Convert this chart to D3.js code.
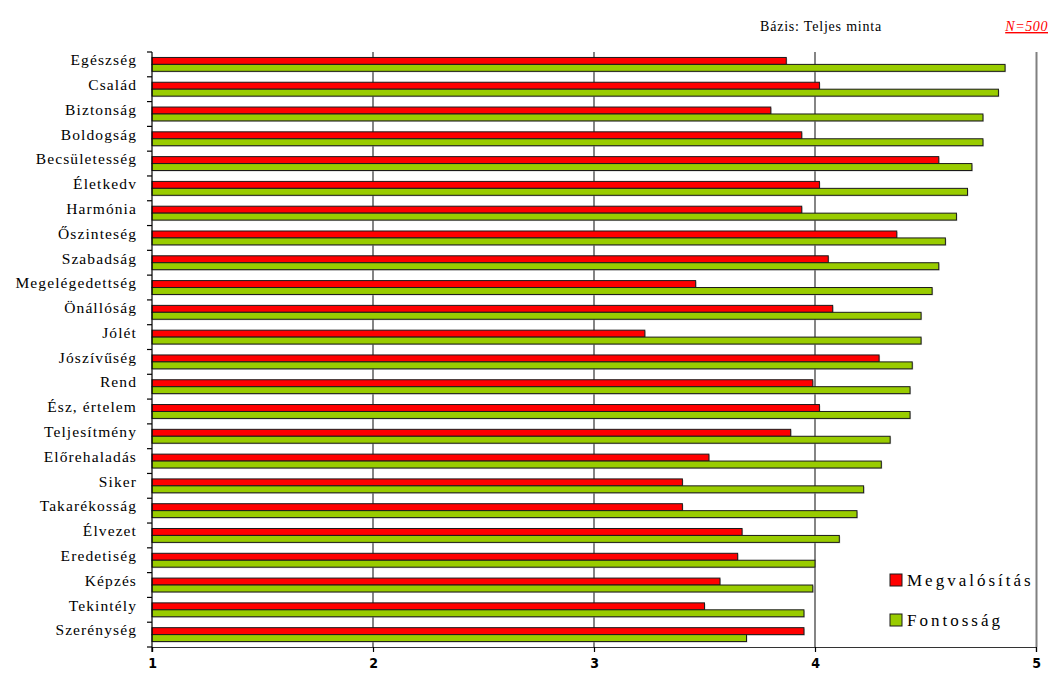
<!DOCTYPE html>
<html>
<head>
<meta charset="utf-8">
<script src="https://cdn.jsdelivr.net/npm/d3@7"></script>
<style>
  html, body { margin: 0; padding: 0; background: #fff; }
  svg { display: block; }
  .serif { font-family: "Liberation Serif", "DejaVu Serif", "Times New Roman", serif; }
  .narrow { font-family: "Liberation Sans Narrow", "DejaVu Sans Condensed", "Liberation Sans", sans-serif; }
</style>
</head>
<body>
<svg id="chart" width="1054" height="673"></svg>
<script>
// Értékek (1–5 skála): megvalósulás és fontosság
const categories = [
  "Egészség", "Család", "Biztonság", "Boldogság", "Becsületesség", "Életkedv",
  "Harmónia", "Őszinteség", "Szabadság", "Megelégedettség", "Önállóság", "Jólét",
  "Jószívűség", "Rend", "Ész, értelem", "Teljesítmény", "Előrehaladás", "Siker",
  "Takarékosság", "Élvezet", "Eredetiség", "Képzés", "Tekintély", "Szerénység"
];
const megvalositas = [
  3.87, 4.02, 3.80, 3.94, 4.56, 4.02,
  3.94, 4.37, 4.06, 3.46, 4.08, 3.23,
  4.29, 3.99, 4.02, 3.89, 3.52, 3.40,
  3.40, 3.67, 3.65, 3.57, 3.50, 3.95
];
const fontossag = [
  4.86, 4.83, 4.76, 4.76, 4.71, 4.69,
  4.64, 4.59, 4.56, 4.53, 4.48, 4.48,
  4.44, 4.43, 4.43, 4.34, 4.30, 4.22,
  4.19, 4.11, 4.00, 3.99, 3.95, 3.69
];
const seriesNames = ["Megvalósítás", "Fontosság"];
const seriesColors = ["#ff0000", "#99cc00"];
const xTicks = [1, 2, 3, 4, 5];

const svg = d3.select("#chart");
const plotLeft = 152, plotRight = 1036, plotTop = 52, plotBottom = 647;

const x = d3.scaleLinear().domain([1, 5]).range([plotLeft, plotRight]);
const y = d3.scaleBand().domain(categories).range([plotTop, plotBottom]).paddingInner(0.44).paddingOuter(0.22);
const ySub = d3.scaleBand().domain(seriesNames).range([0, y.bandwidth()]);

// fejléc
svg.append("text").attr("class", "serif")
  .attr("x", 760).attr("y", 31)
  .attr("font-size", 14).attr("letter-spacing", "0.8px")
  .attr("fill", "#000")
  .text("Bázis: Teljes minta");
svg.append("text").attr("class", "serif")
  .attr("x", 1048).attr("y", 31).attr("text-anchor", "end")
  .attr("font-size", 14).attr("letter-spacing", "0.6px")
  .attr("font-style", "italic").attr("text-decoration", "underline")
  .attr("fill", "#ff0000")
  .text("N=500");

// függőleges rácsvonalak
svg.append("g").selectAll("line")
  .data(xTicks.slice(1, -1))
  .join("line")
  .attr("x1", d => x(d)).attr("x2", d => x(d))
  .attr("y1", plotTop).attr("y2", plotBottom)
  .attr("stroke", "#333").attr("stroke-width", 1.2);

// jobb oldali keret
svg.append("line")
  .attr("x1", plotRight + 0.5).attr("x2", plotRight + 0.5)
  .attr("y1", plotTop).attr("y2", plotBottom)
  .attr("stroke", "#808080").attr("stroke-width", 2);

// oszlopok
const data = categories.map((c, i) => ({ c, vals: [megvalositas[i], fontossag[i]] }));
const groups = svg.append("g").selectAll("g")
  .data(data).join("g")
  .attr("transform", d => `translate(0,${y(d.c)})`);

groups.selectAll("rect.shadow")
  .data(d => d.vals.map((v, k) => ({ v, k })))
  .join("rect").attr("class", "shadow")
  .attr("x", x(1) + 1)
  .attr("y", d => ySub(seriesNames[d.k]) + 1)
  .attr("width", d => x(d.v) - x(1))
  .attr("height", ySub.bandwidth())
  .attr("fill", "#aaa").attr("opacity", 0.6);

groups.selectAll("rect.bar")
  .data(d => d.vals.map((v, k) => ({ v, k })))
  .join("rect").attr("class", "bar")
  .attr("x", x(1))
  .attr("y", d => ySub(seriesNames[d.k]))
  .attr("width", d => x(d.v) - x(1))
  .attr("height", ySub.bandwidth())
  .attr("fill", d => seriesColors[d.k])
  .attr("stroke", "#1a1a1a").attr("stroke-width", 1);

// bal tengely (kategóriák)
const yAxisG = svg.append("g");
yAxisG.append("line")
  .attr("x1", plotLeft).attr("x2", plotLeft).attr("y1", plotTop).attr("y2", plotBottom + 5)
  .attr("stroke", "#000").attr("stroke-width", 1.2);
const boundaries = d3.range(categories.length + 1).map(i => plotTop + i * y.step());
yAxisG.selectAll("line.tick")
  .data(boundaries).join("line").attr("class", "tick")
  .attr("x1", plotLeft - 5).attr("x2", plotLeft)
  .attr("y1", d => d).attr("y2", d => d)
  .attr("stroke", "#000").attr("stroke-width", 1.2);
yAxisG.selectAll("text")
  .data(categories).join("text").attr("class", "serif")
  .attr("x", 137)
  .attr("y", d => y(d) + y.bandwidth() / 2)
  .attr("dy", "0.05em")
  .attr("text-anchor", "end")
  .attr("font-size", 15.5)
  .attr("letter-spacing", "1.1px")
  .attr("fill", "#000")
  .text(d => d);

// alsó tengely
const xAxis = d3.axisBottom(x).tickValues(xTicks).tickSize(5).tickPadding(6).tickFormat(d3.format("d"));
const xAxisG = svg.append("g").attr("transform", `translate(0,${plotBottom})`).call(xAxis);
xAxisG.select(".domain").attr("stroke", "#333").attr("stroke-width", 1.2);
xAxisG.selectAll(".tick line").attr("stroke", "#000").attr("stroke-width", 1.2);
xAxisG.selectAll(".tick text")
  .attr("class", "narrow")
  .attr("font-family", null)
  .attr("font-weight", "bold")
  .attr("font-size", 14)
  .attr("fill", "#000");

// jelmagyarázat
const legend = svg.append("g").attr("transform", "translate(890,574)");
seriesNames.forEach((name, k) => {
  const g = legend.append("g").attr("transform", `translate(0,${k * 40})`);
  g.append("rect").attr("x", 0).attr("y", 0).attr("width", 12).attr("height", 12)
    .attr("fill", seriesColors[k]).attr("stroke", "#1a1a1a").attr("stroke-width", 1);
  g.append("text").attr("class", "serif").attr("x", 17).attr("y", 12)
    .attr("font-size", 17)
    .attr("letter-spacing", "3px")
    .attr("fill", "#000")
    .text(name);
});
</script>
</body>
</html>
